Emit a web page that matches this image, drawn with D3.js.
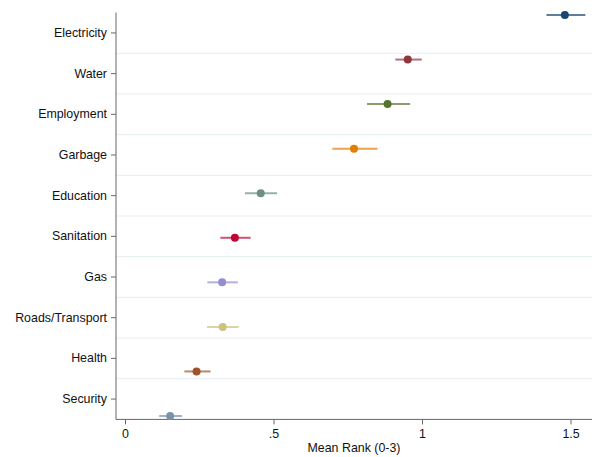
<!DOCTYPE html>
<html><head><meta charset="utf-8">
<script src="https://cdn.jsdelivr.net/npm/d3@7"></script>
<style>body{margin:0;background:#fff;} text{font-family:"Liberation Sans",Arial,Helvetica,sans-serif;}</style>
</head><body><svg id="c" width="592" height="457"></svg>
<script>
const categories = ["Electricity","Water","Employment","Garbage","Education","Sanitation","Gas","Roads/Transport","Health","Security"];
const means = [1.481,0.952,0.884,0.771,0.457,0.370,0.327,0.329,0.241,0.152];
const lower = [1.419,0.910,0.815,0.698,0.404,0.321,0.277,0.276,0.200,0.115];
const upper = [1.550,0.999,0.960,0.850,0.512,0.423,0.380,0.383,0.288,0.192];
const colors = ["#1a476f","#90353b","#55752f","#e37e00","#6e8e84","#c10534","#938dd2","#cac27e","#a0522d","#7b92a8"];
const xTicks = [0,0.5,1,1.5];
const xTickLabels = ["0",".5","1","1.5"];
const xTitle = "Mean Rank (0-3)";

const svg = d3.select("#c");
const pLeft = 116, pRight = 592, pTop = 12.6, pBottom = 419.4;
const fs = 12.4;

const x = d3.scaleLinear().domain([0,1.5]).range([125,570.5]);
const yBand = d3.scaleBand().domain(categories).range([pTop,pBottom]).padding(0);
const yPt = d3.scalePoint().domain(categories).range([15,416]);

// gridlines
svg.append("g").selectAll("line").data(categories.slice(1)).join("line")
  .attr("x1",pLeft).attr("x2",pRight)
  .attr("y1",d=>yBand(d)).attr("y2",d=>yBand(d))
  .attr("stroke","#e6eeef").attr("stroke-width",1);

// y axis
const gy = svg.append("g").attr("transform",`translate(${pLeft},0)`)
  .call(d3.axisLeft(yBand).tickSize(5).tickPadding(4));
gy.select(".domain").attr("stroke","#666").attr("d",`M0,${pTop}V${pBottom}`);
gy.selectAll(".tick line").attr("stroke","#666");
gy.selectAll(".tick text").attr("font-size",fs).attr("fill","#111")
  .attr("font-family","Liberation Sans, Arial, sans-serif");

// x axis
const gx = svg.append("g").attr("transform",`translate(0,${pBottom})`)
  .call(d3.axisBottom(x).tickValues(xTicks).tickFormat((d,i)=>xTickLabels[i]).tickSize(5).tickPadding(5));
gx.select(".domain").attr("stroke","#666").attr("d",`M${pLeft},0H${pRight}`);
gx.selectAll(".tick line").attr("stroke","#666");
gx.selectAll(".tick text").attr("font-size",fs).attr("fill","#111")
  .attr("font-family","Liberation Sans, Arial, sans-serif");

svg.append("text").attr("x",(pLeft+pRight)/2).attr("y",452).attr("text-anchor","middle")
  .attr("font-size",fs).attr("fill","#111").text(xTitle);

// CI lines and points
const g = svg.append("g");
g.selectAll("line.ci").data(categories).join("line").attr("class","ci")
  .attr("x1",(d,i)=>x(lower[i])).attr("x2",(d,i)=>x(upper[i]))
  .attr("y1",d=>yPt(d)).attr("y2",d=>yPt(d))
  .attr("stroke",(d,i)=>colors[i]).attr("stroke-opacity",0.7).attr("stroke-width",2);
g.selectAll("circle").data(categories).join("circle")
  .attr("cx",(d,i)=>x(means[i])).attr("cy",d=>yPt(d)).attr("r",4)
  .attr("fill",(d,i)=>colors[i]);
</script></body></html>
